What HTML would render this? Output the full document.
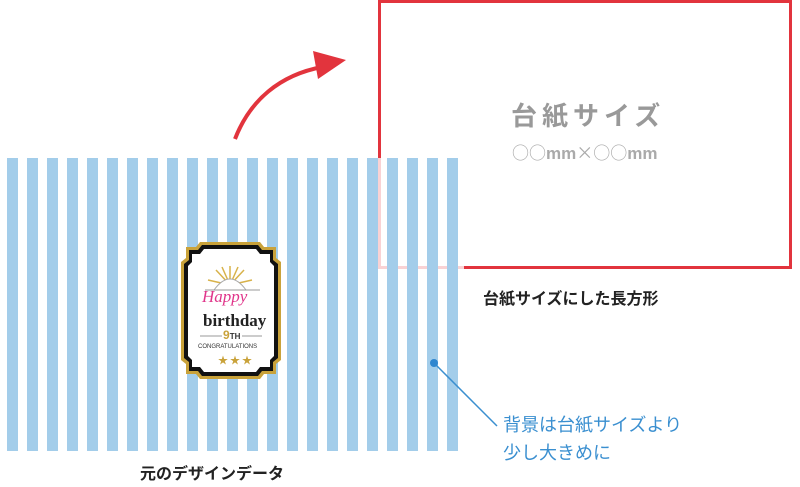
<!DOCTYPE html>
<html><head><meta charset="utf-8"><style>
body{margin:0;width:800px;height:487px;background:#fff;overflow:hidden;position:relative;font-family:"Liberation Sans","Noto Sans CJK JP",sans-serif}
.t{position:absolute;white-space:nowrap}
</style></head><body>
<svg width="800" height="487" style="position:absolute;left:0;top:0">
<rect x="379.5" y="1.5" width="411" height="266" fill="none" stroke="#e2343d" stroke-width="3"/>
<rect x="0" y="158" width="464" height="293" fill="#fff" opacity="0.78"/>
<g fill="#a3cdea">
<rect x="7" y="158" width="11" height="293"/><rect x="27" y="158" width="11" height="293"/><rect x="47" y="158" width="11" height="293"/><rect x="67" y="158" width="11" height="293"/><rect x="87" y="158" width="11" height="293"/><rect x="107" y="158" width="11" height="293"/><rect x="127" y="158" width="11" height="293"/><rect x="147" y="158" width="11" height="293"/><rect x="167" y="158" width="11" height="293"/><rect x="187" y="158" width="11" height="293"/><rect x="207" y="158" width="11" height="293"/><rect x="227" y="158" width="11" height="293"/><rect x="247" y="158" width="11" height="293"/><rect x="267" y="158" width="11" height="293"/><rect x="287" y="158" width="11" height="293"/><rect x="307" y="158" width="11" height="293"/><rect x="327" y="158" width="11" height="293"/><rect x="347" y="158" width="11" height="293"/><rect x="367" y="158" width="11" height="293"/><rect x="387" y="158" width="11" height="293"/><rect x="407" y="158" width="11" height="293"/><rect x="427" y="158" width="11" height="293"/><rect x="447" y="158" width="11" height="293"/>
</g>
<path d="M186 247 L196 247 L200 242 L260 242 L264 247 L276 247 L276 258 L281 262 L281 360 L276 364 L276 374 L264 374 L260 379 L200 379 L196 374 L186 374 L186 364 L181 360 L181 262 L186 258 Z" fill="#c9a23a"/>
<path d="M189 250 L198 250 L202 245 L258 245 L262 250 L273 250 L273 260 L278 264 L278 358 L273 362 L273 371 L262 371 L258 376 L202 376 L198 371 L189 371 L189 362 L184 358 L184 264 L189 260 Z" fill="#111"/>
<path d="M192 254 L200 254 L204 249 L256 249 L260 254 L270 254 L270 262 L274 266 L274 356 L270 360 L270 367 L260 367 L256 372 L204 372 L200 367 L192 367 L192 360 L188 356 L188 266 L192 262 Z" fill="#fff"/>
<g stroke="#d8b24a" stroke-width="1.5">
<line x1="230" y1="285" x2="230" y2="266"/><line x1="230" y1="285" x2="216" y2="270"/><line x1="230" y1="285" x2="244" y2="270"/><line x1="230" y1="285" x2="208" y2="280"/><line x1="230" y1="285" x2="252" y2="280"/><line x1="230" y1="285" x2="222" y2="267"/><line x1="230" y1="285" x2="238" y2="267"/>
</g>
<path d="M214 290 Q230 268 246 290" fill="#fff" stroke="#aaa"/>
<line x1="205" y1="290" x2="260" y2="290" stroke="#999"/>
<line x1="200" y1="336" x2="222" y2="336" stroke="#999"/><line x1="242" y1="336" x2="262" y2="336" stroke="#999"/>
<path d="M235 139 C 250 100 280 75 322 67" fill="none" stroke="#e2343d" stroke-width="4"/>
<polygon points="346,60 313,51 318,79" fill="#e2343d"/>
<line x1="434" y1="363" x2="497" y2="426" stroke="#3a8fd0" stroke-width="1.5"/>
<circle cx="434" cy="363" r="4" fill="#2f86cf"/>
</svg>
<div class="t" style="left:202px;top:287px;font-size:17px;color:#e0358a;font-style:italic;font-family:'Liberation Serif',serif">Happy</div>
<div class="t" style="left:203px;top:311px;font-size:17px;font-weight:bold;color:#222;font-family:'Liberation Serif',serif">birthday</div>
<div class="t" style="left:223px;top:328px;font-size:12px;font-weight:bold;color:#c9a23a">9<span style="font-size:8px;color:#333">TH</span></div>
<div class="t" style="left:198px;top:344px;font-size:6px;color:#333">CONGRATULATIONS</div>
<div class="t" style="left:218px;top:352px;font-size:10px;color:#c9a23a;letter-spacing:2px">★★★</div>
<div class="t" style="left:511px;top:96px;font-size:26px;font-weight:bold;color:#999;letter-spacing:5px">台紙サイズ</div>
<div class="t" style="left:512px;top:139px;font-size:17px;font-weight:bold;color:#aaa"><span style="font-family:'Noto Sans CJK JP',sans-serif;font-weight:normal">○○</span>mm<span style="font-family:'Noto Sans CJK JP',sans-serif;font-weight:normal">×○○</span>mm</div>
<div class="t" style="left:483px;top:285px;font-size:16px;font-weight:bold;color:#222">台紙サイズにした長方形</div>
<div class="t" style="left:503px;top:411px;font-size:18px;color:#3a8fd0;line-height:28px">背景は台紙サイズより<br>少し大きめに</div>
<div class="t" style="left:140px;top:460px;font-size:16px;font-weight:bold;color:#222">元のデザインデータ</div>
</body></html>
